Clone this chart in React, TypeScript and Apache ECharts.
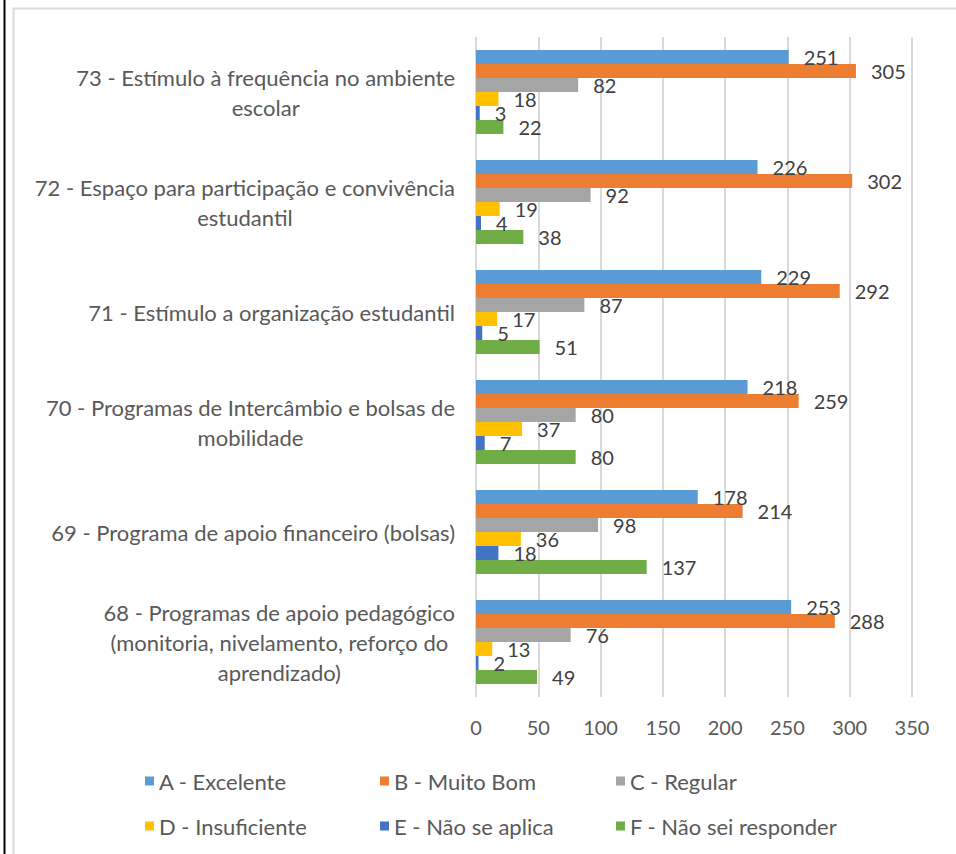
import React, { useEffect, useRef } from "react";
import * as echarts from "echarts";

const categories = [
  "68 - Programas de apoio pedagógico\n(monitoria, nivelamento, reforço do\naprendizado)",
  "69 - Programa de apoio financeiro (bolsas)",
  "70 - Programas de Intercâmbio e bolsas de\nmobilidade",
  "71 - Estímulo a organização estudantil",
  "72 - Espaço para participação e convivência\nestudantil",
  "73 - Estímulo à frequência no ambiente\nescolar",
];

const seriesNames = [
  "A - Excelente",
  "B - Muito Bom",
  "C - Regular",
  "D - Insuficiente",
  "E - Não se aplica",
  "F - Não sei responder",
];

const valuesA = [253, 178, 218, 229, 226, 251];
const valuesB = [288, 214, 259, 292, 302, 305];
const valuesC = [76, 98, 80, 87, 92, 82];
const valuesD = [13, 36, 37, 17, 19, 18];
const valuesE = [2, 18, 7, 5, 4, 3];
const valuesF = [49, 137, 80, 51, 38, 22];

const colors = ["#5B9BD5", "#ED7D31", "#A5A5A5", "#FFC000", "#4472C4", "#70AD47"];

const xTicks = { min: 0, max: 350, interval: 50 };

const FONT = "Lato, 'Open Sans', sans-serif";

export default function App() {
  const ref = useRef<HTMLDivElement>(null);

  useEffect(() => {
    document.body.style.margin = "0";
    if (!ref.current) return;
    const chart = echarts.init(ref.current, undefined, { renderer: "svg" });
    const allValues = [valuesA, valuesB, valuesC, valuesD, valuesE, valuesF];

    const series = allValues.map((vals, i) => ({
      name: seriesNames[i],
      type: "bar" as const,
      data: vals,
      itemStyle: { color: colors[i] },
      barGap: "0%",
      barCategoryGap: "23.6%",
      label: {
        show: true,
        position: "right" as const,
        distance: 15,
        color: "#404040",
        fontSize: 20,
        fontFamily: FONT,
      },
    }));

    const legendPos = [
      { left: 145, top: 770 },
      { left: 380, top: 770 },
      { left: 616, top: 770 },
      { left: 145, top: 815 },
      { left: 380, top: 815 },
      { left: 616, top: 815 },
    ];

    const legends = seriesNames.map((n, i) => ({
      data: [n],
      left: legendPos[i].left,
      top: legendPos[i].top,
      itemWidth: 9,
      itemHeight: 9,
      icon: "rect",
      padding: 0,
      itemGap: 0,
      textStyle: { color: "#595959", fontSize: 22, fontFamily: FONT },
      selectedMode: false,
    }));

    chart.setOption({
      animation: false,
      backgroundColor: "#ffffff",
      textStyle: { fontFamily: FONT },
      grid: { left: 476, right: 44, top: 37, bottom: 157, containLabel: false },
      legend: legends,
      xAxis: {
        type: "value",
        min: xTicks.min,
        max: xTicks.max,
        interval: xTicks.interval,
        axisLine: { show: false },
        axisTick: { show: false },
        splitLine: { show: true, lineStyle: { color: "#D9D9D9", width: 2 } },
        axisLabel: { color: "#595959", fontSize: 20, fontFamily: FONT, margin: 20 },
      },
      yAxis: {
        type: "category",
        data: categories,
        axisLine: { show: false },
        axisTick: { show: false },
        axisLabel: {
          color: "#595959",
          fontSize: 22,
          fontFamily: FONT,
          align: "right",
          margin: 21,
          lineHeight: 30,
          formatter: (v: string) =>
            v
              .split("\n")
              .map((l) => `{c|${l}}`)
              .join("\n"),
          rich: {
            c: {
              align: "center",
              color: "#595959",
              fontSize: 22,
              fontFamily: FONT,
              lineHeight: 30,
            },
          },
        },
      },
      graphic: [
        {
          type: "line",
          shape: { x1: 4.5, y1: 0, x2: 4.5, y2: 854 },
          style: { stroke: "#000000", lineWidth: 2 },
        },
        {
          type: "polyline",
          shape: { points: [[13.5, 854], [13.5, 8.5], [956, 8.5]] },
          style: { stroke: "#D9D9D9", lineWidth: 2, fill: "none" },
        },
      ],
      series,
    });
    return () => chart.dispose();
  }, []);

  return <div ref={ref} style={{ width: 956, height: 854 }} />;
}
